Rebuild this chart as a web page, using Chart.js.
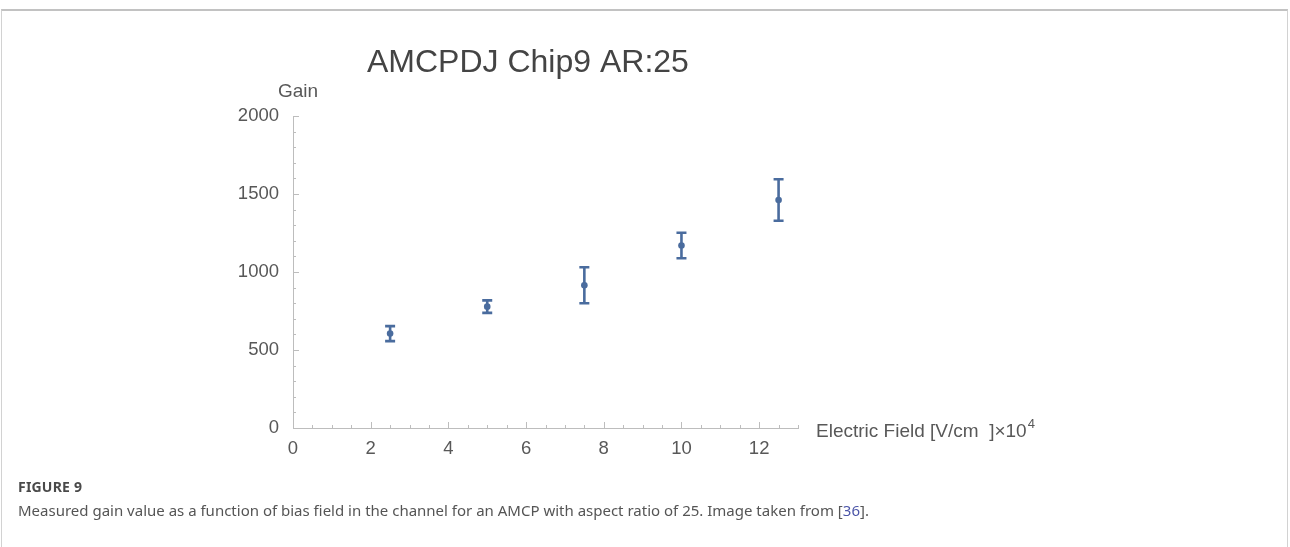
<!DOCTYPE html>
<html>
<head>
<meta charset="utf-8">
<script src="https://cdn.jsdelivr.net/npm/chart.js@4/dist/chart.umd.min.js"></script>
<style>
  html, body { margin: 0; padding: 0; background: #fff; width: 1290px; height: 547px; overflow: hidden; }
  #frame { position: absolute; left: 1px; top: 9px; width: 1285px; height: 600px;
           border: 1px solid #d2d2d2; border-top: 2px solid #c2c2c2; }
  #wrap { position: absolute; left: 0; top: 0; width: 1290px; height: 547px; }
  #cap { position: absolute; left: 18px; top: 477px; font-family: "Noto Sans", "Open Sans", sans-serif; color: #555; }
  #cap .fig { font-weight: 700; font-size: 14px; letter-spacing: 0.2px; color: #4a4a4a; }
  #cap .txt { font-size: 15px; margin-top: 4px; }
  #cap .ref { color: #4b55a8; }
</style>
</head>
<body>
<div id="frame"></div>
<div id="wrap"><canvas id="c" width="1290" height="547"></canvas></div>
<div id="cap">
  <div class="fig">FIGURE 9</div>
  <div class="txt">Measured gain value as a function of bias field in the channel for an AMCP with aspect ratio of 25. Image taken from [<span class="ref">36</span>].</div>
</div>
<script>
// Measured gain of AMCPDJ chip 9 (aspect ratio 25) versus electric field
const field = [2.5, 5, 7.5, 10, 12.5];          // ×10^4 V/cm
const gain = [605, 778, 915, 1170, 1462];
const gainErr = [48, 40, 115, 82, 133];

// Labelled ticks on each axis
const xTickLabels = [0, 2, 4, 6, 8, 10, 12];
const yTickLabels = [0, 500, 1000, 1500, 2000];

const AXIS_COLOR = '#bdbdbd';
const TEXT_COLOR = '#585858';
const MARK_COLOR = '#4a6c9e';
const FONT = '"Liberation Sans", Arial, sans-serif';

// Inward tick marks, long at labelled ticks and short in between
const inwardTicks = {
  id: 'inwardTicks',
  beforeDatasetsDraw(chart) {
    const { ctx, scales: { x, y }, chartArea } = chart;
    ctx.save();
    ctx.strokeStyle = AXIS_COLOR;
    ctx.lineWidth = 1;
    ctx.beginPath();
    x.ticks.forEach(t => {
      const px = Math.round(x.getPixelForValue(t.value)) + 0.5;
      const len = xTickLabels.includes(t.value) ? 6 : 3;
      ctx.moveTo(px, chartArea.bottom);
      ctx.lineTo(px, chartArea.bottom - len);
    });
    y.ticks.forEach(t => {
      const py = Math.round(y.getPixelForValue(t.value)) + 0.5;
      const len = yTickLabels.includes(t.value) ? 6 : 3;
      ctx.moveTo(chartArea.left, py);
      ctx.lineTo(chartArea.left + len, py);
    });
    ctx.stroke();
    ctx.restore();
  }
};

// Vertical error bars with flat caps
const errorBars = {
  id: 'errorBars',
  beforeDatasetsDraw(chart) {
    const { ctx, scales: { x, y } } = chart;
    ctx.save();
    ctx.strokeStyle = MARK_COLOR;
    ctx.lineWidth = 2.6;
    ctx.lineCap = 'butt';
    field.forEach((f, i) => {
      const px = x.getPixelForValue(f);
      const top = y.getPixelForValue(gain[i] + gainErr[i]);
      const bot = y.getPixelForValue(gain[i] - gainErr[i]);
      ctx.beginPath();
      ctx.moveTo(px, top); ctx.lineTo(px, bot);
      ctx.moveTo(px - 5, top); ctx.lineTo(px + 5, top);
      ctx.moveTo(px - 5, bot); ctx.lineTo(px + 5, bot);
      ctx.stroke();
    });
    ctx.restore();
  }
};

// Plot label and axis labels
const plotLabels = {
  id: 'plotLabels',
  afterDraw(chart) {
    const { ctx, chartArea } = chart;
    ctx.save();
    ctx.fillStyle = '#444';
    ctx.textBaseline = 'alphabetic';
    ctx.textAlign = 'left';
    ctx.font = '32px ' + FONT;
    ctx.fillText('AMCPDJ Chip9 AR:25', 367, 72);

    ctx.fillStyle = TEXT_COLOR;
    ctx.font = '19px ' + FONT;
    ctx.textAlign = 'center';
    ctx.textBaseline = 'middle';
    ctx.fillText('Gain', chartArea.left + 5, 92);

    ctx.textAlign = 'left';
    const base = 'Electric Field [V/cm  ]\u00d710';
    const lx = chartArea.right + 18;
    const ly = chartArea.bottom + 4;
    ctx.fillText(base, lx, ly);
    const w = ctx.measureText(base).width;
    ctx.font = '13px ' + FONT;
    ctx.fillText('4', lx + w + 1, ly - 8);
    ctx.restore();
  }
};

new Chart(document.getElementById('c'), {
  type: 'scatter',
  data: {
    datasets: [{
      data: field.map((f, i) => ({ x: f, y: gain[i] })),
      backgroundColor: MARK_COLOR,
      borderColor: MARK_COLOR,
      pointRadius: 3.3,
      pointBorderWidth: 0,
      showLine: false
    }]
  },
  options: {
    responsive: false,
    animation: false,
    devicePixelRatio: 1,
    layout: { padding: { left: 0, top: 116, right: 492, bottom: 79 } },
    plugins: { legend: { display: false }, tooltip: { enabled: false }, title: { display: false } },
    scales: {
      x: {
        type: 'linear',
        min: 0, max: 13,
        afterFit(s) { s.height = 40; },
        border: { display: true, color: AXIS_COLOR, width: 1 },
        grid: { display: false },
        ticks: {
          stepSize: 0.5,
          autoSkip: false,
          maxRotation: 0,
          padding: 2,
          color: TEXT_COLOR,
          font: { family: FONT, size: 18.5 },
          callback: v => xTickLabels.includes(v) ? String(v) : ''
        }
      },
      y: {
        type: 'linear',
        min: 0, max: 2000,
        afterFit(s) { s.width = 293; },
        border: { display: true, color: AXIS_COLOR, width: 1 },
        grid: { display: false },
        ticks: {
          stepSize: 100,
          autoSkip: false,
          padding: 6,
          color: TEXT_COLOR,
          font: { family: FONT, size: 18.5 },
          callback: v => yTickLabels.includes(v) ? String(v) : ''
        }
      }
    }
  },
  plugins: [inwardTicks, errorBars, plotLabels]
});
</script>
</body>
</html>
